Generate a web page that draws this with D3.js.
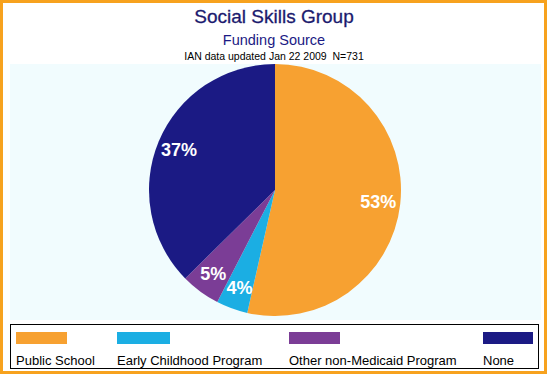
<!DOCTYPE html>
<html><head><meta charset="utf-8">
<script src="https://cdn.jsdelivr.net/npm/d3@7"></script>
<style>html,body{margin:0;padding:0;background:#fff;}svg{display:block;font-family:"Liberation Sans",Arial,sans-serif;}</style>
</head><body>
<svg id="chart" width="550" height="379"></svg>
<script>
const categories = ["Public School", "Early Childhood Program", "Other non-Medicaid Program", "None"];
const values = [53, 4, 5, 37];
const labels = ["53%", "4%", "5%", "37%"];
const colors = ["#F7A131", "#1BAEE3", "#7B3D96", "#1B1A84"];
const titleText = "Social Skills Group";
const subtitleText = "Funding Source";
const noteText = "IAN data updated Jan 22 2009  N=731";

const svg = d3.select("#chart");
// outer frame
svg.append("rect").attr("x",1.5).attr("y",1.5).attr("width",544).attr("height",371)
  .attr("fill","#fff").attr("stroke","#F7A21E").attr("stroke-width",3);
// plot background
svg.append("rect").attr("x",10).attr("y",64).attr("width",531).attr("height",256).attr("fill","#F1FCFE");

svg.append("text").attr("x",274).attr("y",23).attr("text-anchor","middle")
  .attr("font-size",19).attr("fill","#1B1A6E").attr("stroke","#1B1A6E").attr("stroke-width",0.3).text(titleText);
svg.append("text").attr("x",274).attr("y",45).attr("text-anchor","middle")
  .attr("font-size",14.5).attr("fill","#1B1A84").text(subtitleText);
svg.append("text").attr("x",274).attr("y",60).attr("text-anchor","middle")
  .attr("font-size",10.5).attr("fill","#000").style("white-space","pre").text(noteText);

const cx = 275, cy = 190, R = 126;
const pie = d3.pie().sort(null).value(d => d.v);
const data = pie(categories.map((c,i)=>({c, v: values[i], l: labels[i], col: colors[i]})));
const arc = d3.arc().innerRadius(0).outerRadius(R);
const labelArc = d3.arc().innerRadius(104).outerRadius(104);
const g = svg.append("g").attr("transform",`translate(${cx},${cy})`);
g.selectAll("path").data(data).join("path").attr("d",arc).attr("fill",d=>d.data.col);
g.selectAll("text").data(data).join("text")
  .attr("transform",d=>`translate(${labelArc.centroid(d)})`)
  .attr("text-anchor","middle").attr("dy","0.36em")
  .attr("font-size",18).attr("font-weight","bold").attr("fill","#fff")
  .text(d=>d.data.l);

// legend
svg.append("rect").attr("x",10.5).attr("y",324.5).attr("width",528).attr("height",44)
  .attr("fill","#fff").attr("stroke","#000").attr("stroke-width",1);
const legX = [16, 117, 289, 483];
const lg = svg.selectAll("g.leg").data(categories).join("g").attr("class","leg")
  .attr("transform",(d,i)=>`translate(${legX[i]},0)`);
lg.append("rect").attr("x",0).attr("y",332).attr("width",(d,i)=>i===3?50:(i===1?53:51)).attr("height",12)
  .attr("fill",(d,i)=>colors[i]);
lg.append("text").attr("x",0).attr("y",365).attr("font-size",13).attr("fill","#000").text(d=>d);
</script>
</body></html>
